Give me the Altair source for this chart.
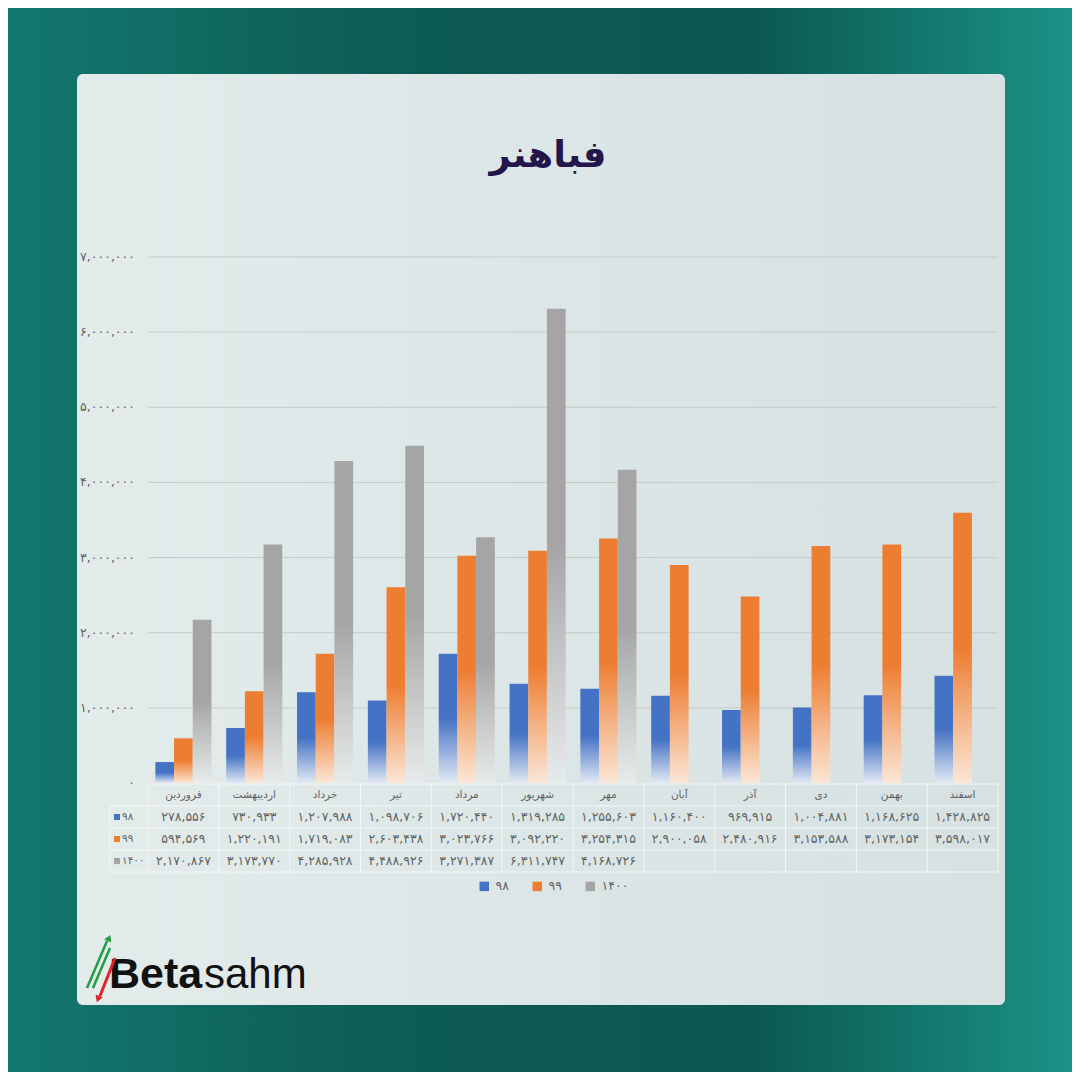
import altair as alt
import pandas as pd

# ---------------- data ----------------
title_text = "فباهنر"
months = ["فروردین", "اردیبهشت", "خرداد", "تیر", "مرداد", "شهریور",
          "مهر", "آبان", "آذر", "دی", "بهمن", "اسفند"]
series_names = ["۹۸", "۹۹", "۱۴۰۰"]
s98 = [278556, 730933, 1207988, 1098706, 1720440, 1319285,
       1255603, 1160400, 969915, 1004881, 1168625, 1428825]
s99 = [594569, 1220191, 1719083, 2603438, 3023766, 3092220,
       3254315, 2900058, 2480916, 3153588, 3173154, 3598017]
s1400 = [2170867, 3173770, 4285928, 4488926, 3271387, 6311747,
         4168726, None, None, None, None, None]
y_ticks = [0, 1000000, 2000000, 3000000, 4000000, 5000000, 6000000, 7000000]
logo_bold = "Beta"
logo_regular = "sahm"

# ---------------- styles ----------------
series_colors = ["#4472c4", "#ed7d31", "#a5a5a5"]
series_fade = ["#e2e9f4", "#fbe6d6", "#e8ebeb"]
FONT = "DejaVu Sans"
TXT = "#5f6363"

FA = str.maketrans("0123456789", "۰۱۲۳۴۵۶۷۸۹")


def fa(n):
    return f"{int(n):,}".translate(FA)


one = alt.Data(values=[{"k": 1}])

xscale = alt.Scale(type="band", domain=months, range=[140, 990],
                   paddingInner=0, paddingOuter=0)
yscale = alt.Scale(type="linear", domain=[0, 7000000], range=[775, 249],
                   nice=False, zero=True)
rows = ["h"] + series_names
tscale = alt.Scale(type="band", domain=rows, range=[776, 864],
                   paddingInner=0, paddingOuter=0)

layers = []

# background and card
bg = alt.Chart(one).mark_rect(
    fill=alt.LinearGradient(
        gradient="linear", x1=0, x2=1, y1=0, y2=0,
        stops=[alt.GradientStop(offset=0, color="#13786f"),
               alt.GradientStop(offset=0.35, color="#0d5c55"),
               alt.GradientStop(offset=0.7, color="#0b5850"),
               alt.GradientStop(offset=1, color="#1b9286")])
).encode(x=alt.value(0), x2=alt.value(1064), y=alt.value(0), y2=alt.value(1064))
layers.append(bg)

card = alt.Chart(one).mark_rect(
    cornerRadius=6,
    fill=alt.LinearGradient(
        gradient="linear", x1=0, x2=1, y1=0, y2=0,
        stops=[alt.GradientStop(offset=0, color="#e3ebeb"),
               alt.GradientStop(offset=1, color="#d7e1e1")])
).encode(x=alt.value(69), x2=alt.value(997), y=alt.value(66), y2=alt.value(997))
layers.append(card)

# title
layers.append(alt.Chart(one).mark_text(
    text=title_text, font=FONT, fontWeight="bold", fontSize=37,
    color="#23164d", align="center", baseline="middle"
).encode(x=alt.value(540), y=alt.value(148)))

# gridlines
grid_df = pd.DataFrame({"value": y_ticks[1:]})
layers.append(alt.Chart(grid_df).mark_rule(color="#c3caca", strokeWidth=1).encode(
    y=alt.Y("value:Q", scale=yscale, axis=None),
    x=alt.value(140), x2=alt.value(990)))

# y tick labels
tick_df = pd.DataFrame({"value": y_ticks, "label": [fa(v) for v in y_ticks]})
layers.append(alt.Chart(tick_df).mark_text(
    font=FONT, fontSize=12.5, color=TXT, align="right", baseline="middle"
).encode(y=alt.Y("value:Q", scale=yscale, axis=None), x=alt.value(127),
         text="label:N"))

# bars
bw = 18.7
for i, vals in enumerate([s98, s99, s1400]):
    df = pd.DataFrame({"month": months, "value": vals}).dropna()
    grad = alt.LinearGradient(
        gradient="linear", x1=0, x2=0, y1=0, y2=1,
        stops=[alt.GradientStop(offset=0, color=series_colors[i]),
               alt.GradientStop(offset=0.5, color=series_colors[i]),
               alt.GradientStop(offset=1, color=series_fade[i])])
    layers.append(alt.Chart(df).mark_bar(size=bw, xOffset=(i - 1) * bw, fill=grad).encode(
        x=alt.X("month:N", scale=xscale, axis=None),
        y=alt.Y("value:Q", scale=yscale, axis=None)))

# table lines
LINE = "#f3f6f6"
mdf = pd.DataFrame({"month": months})
layers.append(alt.Chart(mdf).mark_rule(color=LINE, strokeWidth=1).encode(
    x=alt.X("month:N", scale=xscale, axis=None, bandPosition=0),
    y=alt.value(776), y2=alt.value(864)))
layers.append(alt.Chart(pd.DataFrame({"month": [months[-1]]})).mark_rule(
    color=LINE, strokeWidth=1).encode(
    x=alt.X("month:N", scale=xscale, axis=None, bandPosition=1),
    y=alt.value(776), y2=alt.value(864)))
layers.append(alt.Chart(one).mark_rule(color=LINE, strokeWidth=1).encode(
    x=alt.value(102), y=alt.value(798), y2=alt.value(864)))
layers.append(alt.Chart(pd.DataFrame({"row": ["h"]})).mark_rule(
    color=LINE, strokeWidth=1).encode(
    y=alt.Y("row:N", scale=tscale, axis=None, bandPosition=0),
    x=alt.value(140), x2=alt.value(990)))
layers.append(alt.Chart(pd.DataFrame({"row": series_names})).mark_rule(
    color=LINE, strokeWidth=1).encode(
    y=alt.Y("row:N", scale=tscale, axis=None, bandPosition=0),
    x=alt.value(102), x2=alt.value(990)))
layers.append(alt.Chart(pd.DataFrame({"row": [series_names[-1]]})).mark_rule(
    color=LINE, strokeWidth=1).encode(
    y=alt.Y("row:N", scale=tscale, axis=None, bandPosition=1),
    x=alt.value(102), x2=alt.value(990)))

# table header (month names)
hdf = pd.DataFrame({"row": ["h"] * len(months), "month": months, "label": months})
layers.append(alt.Chart(hdf).mark_text(
    font=FONT, fontSize=10.5, color=TXT, align="center", baseline="middle"
).encode(x=alt.X("month:N", scale=xscale, axis=None),
         y=alt.Y("row:N", scale=tscale, axis=None),
         text="label:N"))

# table values
cells = []
for name, vals in zip(series_names, [s98, s99, s1400]):
    for m, v in zip(months, vals):
        if v is not None:
            cells.append({"row": name, "month": m, "label": fa(v)})
layers.append(alt.Chart(pd.DataFrame(cells)).mark_text(
    font=FONT, fontSize=12.5, color=TXT, align="center", baseline="middle"
).encode(x=alt.X("month:N", scale=xscale, axis=None),
         y=alt.Y("row:N", scale=tscale, axis=None),
         text="label:N"))

# row keys (also the legend source)
rdf = pd.DataFrame({"row": series_names})
layers.append(alt.Chart(rdf).mark_square(size=36, opacity=1).encode(
    x=alt.value(109),
    y=alt.Y("row:N", scale=tscale, axis=None),
    color=alt.Color("row:N",
                    scale=alt.Scale(domain=series_names, range=series_colors),
                    legend=alt.Legend(orient="none", legendX=470, legendY=872,
                                      direction="horizontal", title=None,
                                      symbolType="square", symbolSize=90,
                                      symbolStrokeWidth=0, padding=0,
                                      labelFont=FONT, labelFontSize=12.5,
                                      labelColor=TXT, labelOffset=5,
                                      columnPadding=22))))
layers.append(alt.Chart(rdf).mark_text(
    font=FONT, fontSize=10.5, color=TXT, align="left", baseline="middle"
).encode(x=alt.value(114), y=alt.Y("row:N", scale=tscale, axis=None),
         text="row:N"))

# logo
layers.append(alt.Chart(one).mark_text(
    text=logo_bold, font="Liberation Sans", fontWeight="bold", fontSize=43,
    color="#111111", align="left", baseline="alphabetic"
).encode(x=alt.value(101), y=alt.value(980)))
layers.append(alt.Chart(one).mark_text(
    text=logo_regular, font="Liberation Sans", fontSize=42,
    color="#111111", align="left", baseline="alphabetic"
).encode(x=alt.value(196), y=alt.value(980)))
layers.append(alt.Chart(one).mark_rule(color="#1f9e45", strokeWidth=2.5).encode(
    x=alt.value(79), x2=alt.value(99), y=alt.value(980), y2=alt.value(933)))
layers.append(alt.Chart(one).mark_rule(color="#1f9e45", strokeWidth=2.5).encode(
    x=alt.value(85), x2=alt.value(102), y=alt.value(980), y2=alt.value(940)))
layers.append(alt.Chart(one).mark_point(shape="triangle-up", filled=True, size=60,
                                        angle=23, color="#1f9e45", opacity=1).encode(
    x=alt.value(101), y=alt.value(930)))
layers.append(alt.Chart(one).mark_rule(color="#e02424", strokeWidth=3).encode(
    x=alt.value(107), x2=alt.value(92), y=alt.value(950), y2=alt.value(988)))
layers.append(alt.Chart(one).mark_point(shape="triangle-down", filled=True, size=60,
                                        angle=21, color="#e02424", opacity=1).encode(
    x=alt.value(90), y=alt.value(991)))

chart = alt.layer(*layers).resolve_scale(y="independent").properties(
    width=1064, height=1064,
    autosize=alt.AutoSizeParams(type="none"),
    padding=0,
    background="#0e5d55",
).configure_view(stroke=None)

chart.save("out.html", embed_options={"renderer": "svg", "actions": False})
